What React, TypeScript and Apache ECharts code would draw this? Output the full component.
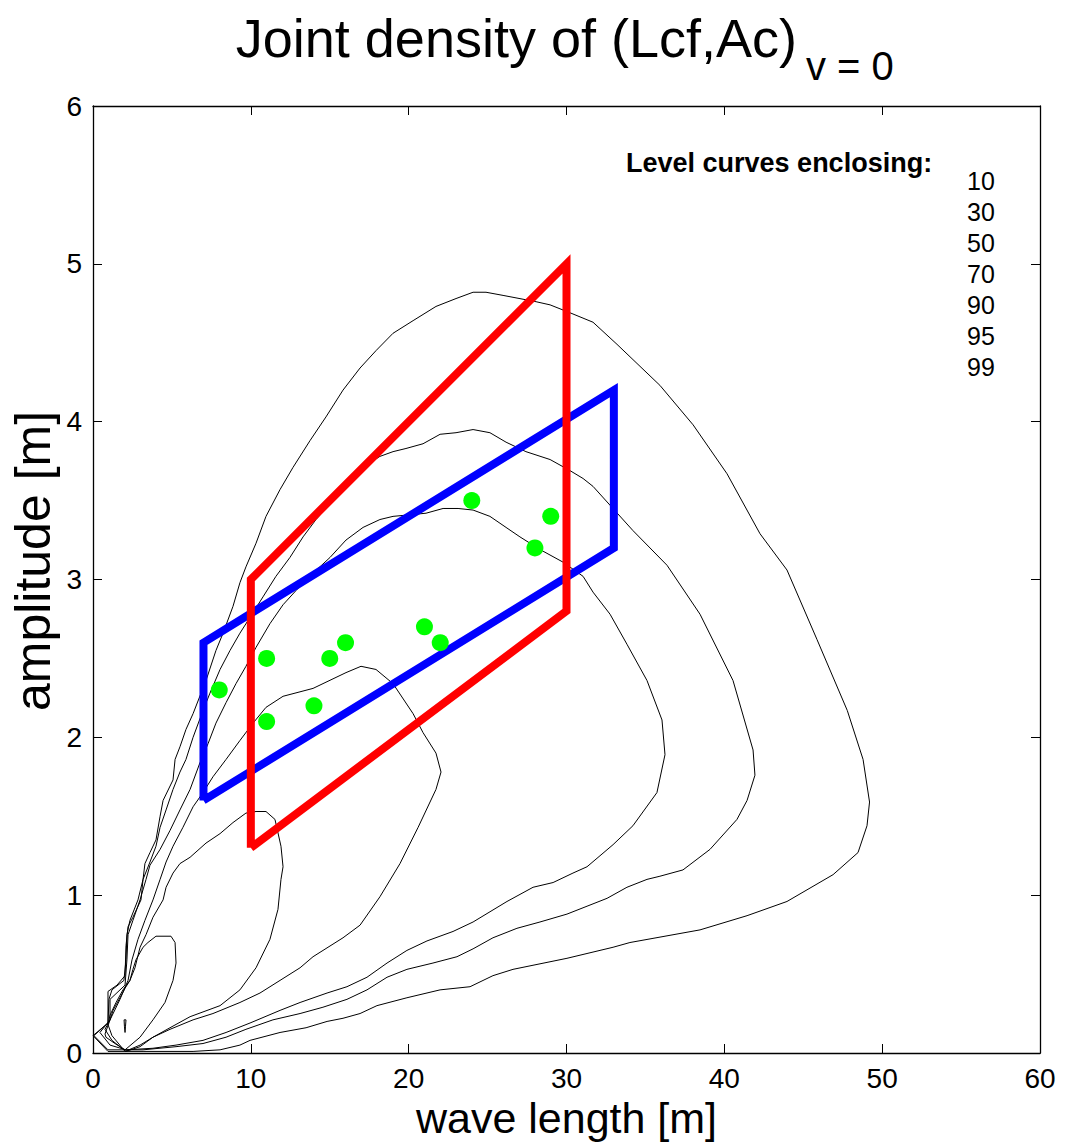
import React, { useEffect, useRef } from "react";
import * as echarts from "echarts";

// ---- data (wave length [m], amplitude [m]) ----
const contour99: number[][] = [
  [0, 0.11], [0.95, 0.19], [0.95, 0.39], [1.52, 0.43], [2.03, 0.49], [2.09, 0.68], [2.22, 0.8], [2.53, 0.86],
  [3.04, 0.97], [3.17, 1.1], [3.29, 1.2], [3.61, 1.27], [3.99, 1.35], [4.25, 1.5], [4.44, 1.6], [5.07, 1.73],
  [5.2, 1.86], [5.51, 1.94], [5.89, 2.05], [6.34, 2.15], [7.16, 2.36], [7.79, 2.55], [8.24, 2.66], [8.87, 2.83],
  [9.31, 2.98], [9.69, 3.08], [10.33, 3.23], [10.96, 3.4], [11.85, 3.57], [12.67, 3.71], [13.75, 3.88],
  [14.76, 4.03], [15.84, 4.2], [16.92, 4.34], [17.93, 4.45], [19.01, 4.56], [20.28, 4.64], [21.73, 4.73],
  [23.0, 4.78], [24.08, 4.82], [24.9, 4.82], [25.98, 4.8], [28.07, 4.76], [28.96, 4.74], [30.22, 4.69],
  [31.68, 4.63], [33.2, 4.49], [35.92, 4.23], [38.02, 3.98], [40.17, 3.67], [42.26, 3.29], [43.97, 3.06],
  [45.87, 2.62], [47.79, 2.17], [48.79, 1.86], [49.2, 1.59], [49.04, 1.44], [48.47, 1.27], [46.89, 1.13],
  [43.97, 0.96], [41.44, 0.87], [38.46, 0.78], [34.02, 0.7], [32.95, 0.67], [30.03, 0.6], [26.61, 0.53],
  [25.34, 0.49], [23.89, 0.42], [21.99, 0.4], [19.89, 0.35], [17.99, 0.3], [16.92, 0.25], [15.84, 0.22],
  [14.83, 0.2], [13.5, 0.16], [11.85, 0.13], [9.95, 0.08], [9.31, 0.05], [8.05, 0.02], [6.34, 0.01],
  [3.17, 0.01], [0.95, 0.01], [0, 0.11],
];

const contour95: number[][] = [
  [0.06, 0.11], [0.95, 0.19], [1.01, 0.34], [1.2, 0.4], [1.96, 0.46], [2.09, 0.59], [2.15, 0.75], [2.34, 0.84],
  [2.85, 0.97], [3.17, 1.1], [3.61, 1.21], [3.99, 1.31], [4.25, 1.43], [4.63, 1.54], [5.07, 1.67], [5.51, 1.78],
  [5.89, 1.86], [6.34, 2.0], [6.97, 2.17], [7.41, 2.28], [8.05, 2.43], [8.68, 2.55], [9.31, 2.66], [10.14, 2.79],
  [10.77, 2.89], [11.59, 3.02], [12.48, 3.14], [13.31, 3.27], [14.13, 3.38], [15.02, 3.48], [15.84, 3.57],
  [16.66, 3.67], [17.55, 3.74], [18.18, 3.78], [19.01, 3.81], [19.83, 3.83], [20.91, 3.86], [21.99, 3.92],
  [23.0, 3.93], [24.08, 3.95], [25.15, 3.93], [26.17, 3.87], [27.43, 3.81], [28.96, 3.76], [30.22, 3.69],
  [31.05, 3.64], [31.68, 3.59], [34.21, 3.31], [36.37, 3.09], [38.46, 2.78], [40.55, 2.36], [41.82, 1.92],
  [41.94, 1.76], [41.44, 1.6], [40.8, 1.48], [39.09, 1.29], [37.38, 1.16], [35.92, 1.12], [35.1, 1.1],
  [33.83, 1.05], [32.57, 0.98], [31.3, 0.93], [30.03, 0.88], [28.32, 0.83], [26.86, 0.79], [25.34, 0.73],
  [24.08, 0.66], [23.06, 0.61], [21.54, 0.57], [19.89, 0.53], [18.63, 0.48], [17.36, 0.4], [16.09, 0.34],
  [14.57, 0.29], [13.12, 0.25], [11.4, 0.21], [9.69, 0.15], [8.43, 0.1], [6.97, 0.06], [5.26, 0.04],
  [3.17, 0.02], [0.95, 0.02], [0.06, 0.11],
];

const contour90: number[][] = [
  [0.44, 0.13], [1.08, 0.21], [1.08, 0.34], [2.03, 0.43], [2.15, 0.59], [2.22, 0.75], [2.53, 0.84], [2.98, 0.97],
  [3.36, 1.1], [3.61, 1.19], [4.25, 1.29], [4.88, 1.41], [5.51, 1.54], [6.15, 1.67], [6.78, 1.84], [7.29, 1.96],
  [7.79, 2.09], [8.43, 2.22], [9.06, 2.34], [9.69, 2.45], [10.33, 2.57], [11.21, 2.72], [12.04, 2.84],
  [12.86, 2.93], [13.94, 3.04], [15.02, 3.14], [16.03, 3.25], [17.11, 3.33], [18.18, 3.38], [19.01, 3.4],
  [20.08, 3.41], [21.1, 3.42], [22.18, 3.45], [23.13, 3.45], [24.08, 3.44], [25.15, 3.4], [26.17, 3.33],
  [27.05, 3.27], [28.32, 3.19], [29.78, 3.11], [31.05, 3.02], [31.68, 2.92], [32.76, 2.78], [33.83, 2.59],
  [35.1, 2.36], [36.05, 2.11], [36.24, 1.89], [35.73, 1.65], [34.21, 1.44], [32.95, 1.32], [31.3, 1.18],
  [30.41, 1.14], [29.15, 1.08], [27.88, 1.05], [26.23, 0.96], [24.08, 0.83], [22.81, 0.77], [21.16, 0.71],
  [19.89, 0.65], [18.63, 0.57], [17.36, 0.48], [16.09, 0.42], [14.83, 0.38], [13.12, 0.32], [11.85, 0.27],
  [9.95, 0.19], [8.43, 0.13], [6.97, 0.08], [5.26, 0.05], [3.8, 0.03], [2.09, 0.02], [1.08, 0.05], [0.44, 0.13],
];

const contour70: number[][] = [
  [2.09, 0.01], [1.2, 0.08], [0.76, 0.15], [1.08, 0.21], [1.71, 0.34], [2.22, 0.46], [2.47, 0.59], [2.85, 0.72],
  [3.29, 0.84], [3.8, 0.97], [4.25, 1.1], [4.63, 1.21], [5.07, 1.31], [5.7, 1.43], [6.34, 1.56], [6.97, 1.65],
  [7.6, 1.75], [8.43, 1.86], [9.31, 1.98], [10.14, 2.09], [10.96, 2.19], [12.04, 2.26], [13.94, 2.31],
  [16.03, 2.41], [16.98, 2.45], [17.93, 2.43], [19.01, 2.34], [20.28, 2.15], [20.91, 2.03], [21.73, 1.9],
  [22.05, 1.78], [21.73, 1.67], [20.6, 1.43], [19.45, 1.2], [18.18, 0.99], [16.92, 0.81], [15.84, 0.73],
  [13.94, 0.61], [13.12, 0.54], [11.85, 0.46], [10.58, 0.38], [9.31, 0.32], [7.6, 0.25], [6.34, 0.21],
  [4.88, 0.15], [3.8, 0.1], [2.98, 0.04], [2.09, 0.01],
];

const contour50: number[][] = [
  [2.03, 0.01], [1.2, 0.11], [0.95, 0.18], [1.08, 0.24], [1.46, 0.32], [1.9, 0.4], [2.34, 0.46], [2.66, 0.54],
  [2.98, 0.67], [3.36, 0.75], [3.8, 0.86], [4.44, 0.97], [4.63, 1.05], [5.07, 1.14], [5.51, 1.2], [6.15, 1.24],
  [7.16, 1.33], [8.05, 1.39], [8.87, 1.46], [9.69, 1.52], [10.33, 1.53], [10.96, 1.53], [11.53, 1.48],
  [11.91, 1.31], [12.04, 1.18], [11.91, 1.1], [11.72, 0.91], [11.21, 0.72], [10.33, 0.54], [9.31, 0.4],
  [8.05, 0.3], [6.15, 0.23], [4.88, 0.16], [3.8, 0.1], [2.98, 0.05], [2.03, 0.01],
];

const contour30: number[][] = [
  [3.99, 0.74], [4.94, 0.74], [5.2, 0.7], [5.26, 0.57], [5.07, 0.46], [4.56, 0.32], [3.8, 0.21], [2.98, 0.1],
  [2.03, 0.02], [1.39, 0.06], [0.82, 0.1], [0.76, 0.12], [1.08, 0.21], [1.27, 0.27], [1.71, 0.35], [2.03, 0.41],
  [2.34, 0.46], [2.53, 0.53], [2.72, 0.59], [3.17, 0.67], [3.48, 0.7], [3.99, 0.74],
];

const contour10: number[][] = [
  [1.97, 0.21], [2.09, 0.21], [2.06, 0.17], [2.03, 0.13], [1.99, 0.17], [1.97, 0.21],
];

const redBox: number[][] = [[10, 1.3], [10, 3.0], [30, 5.0], [30, 2.8], [10, 1.3]];
const blueBox: number[][] = [[7, 1.6], [7, 2.6], [33, 4.2], [33, 3.2], [7, 1.6]];

const greenPoints: number[][] = [
  [8, 2.3], [11, 2.5], [11, 2.1], [14, 2.2], [15, 2.5], [16, 2.6],
  [21, 2.7], [22, 2.6], [24, 3.5], [28, 3.2], [29, 3.4],
];

const levelLabels = ["10", "30", "50", "70", "90", "95", "99"];
const contours = [contour10, contour30, contour50, contour70, contour90, contour95, contour99];

const FONT = "'Liberation Sans', Arial, Helvetica, sans-serif";

function textEl(text: string, x: number, y: number, fontSize: number, align: string, extra: any = {}, rotation = 0) {
  return {
    type: "text",
    x,
    y,
    rotation,
    style: {
      text,
      fontSize,
      fontFamily: FONT,
      fill: "#000",
      align,
      verticalAlign: "middle",
      textAlign: align,
      textVerticalAlign: "middle",
      ...extra,
    },
  };
}

export default function App() {
  const ref = useRef<HTMLDivElement>(null);

  useEffect(() => {
    if (!ref.current) return;
    const chart = echarts.init(ref.current, undefined, { renderer: "svg" });

    const axisCommon = {
      type: "value" as const,
      axisLine: { show: true, onZero: false, lineStyle: { color: "#000", width: 1.3 } },
      axisTick: { show: true, inside: true, length: 9, lineStyle: { color: "#000", width: 1 } },
      splitLine: { show: false },
    };

    const series: any[] = contours.map((c, i) => ({
      type: "line",
      name: "level " + levelLabels[i],
      data: c,
      showSymbol: false,
      silent: true,
      z: 2,
      lineStyle: { color: "#000", width: 1 },
    }));

    series.push({
      type: "line",
      name: "blue",
      data: blueBox,
      showSymbol: false,
      silent: true,
      z: 3,
      lineStyle: { color: "#0000ff", width: 8, join: "miter", cap: "butt" },
    });
    series.push({
      type: "line",
      name: "red",
      data: redBox,
      showSymbol: false,
      silent: true,
      z: 4,
      lineStyle: { color: "#ff0000", width: 8, join: "miter", cap: "butt" },
    });
    series.push({
      type: "scatter",
      name: "points",
      data: greenPoints,
      symbol: "circle",
      symbolSize: 17,
      z: 5,
      itemStyle: { color: "#00ff00", opacity: 1 },
    });

    const graphics: any[] = [
      textEl("Joint density of (Lcf,Ac)", 797, 38, 54, "right"),
      textEl("v = 0", 806, 66, 40, "left"),
      textEl("Level curves enclosing:", 626, 163, 27, "left", { fontWeight: "bold" }),
      ...levelLabels.map((t, i) => textEl(t, 967, 181 + i * 31, 25, "left")),
      textEl("amplitude [m]", 33, 561, 50, "center", {}, Math.PI / 2),
    ];

    chart.setOption({
      animation: false,
      backgroundColor: "#fff",
      textStyle: { fontFamily: FONT },
      grid: { left: 93, right: 25, top: 106, bottom: 93, containLabel: false, outerBoundsMode: "none" },
      xAxis: [
        {
          ...axisCommon,
          position: "bottom",
          min: 0,
          max: 60,
          interval: 10,
          axisLabel: { show: true, fontSize: 28, color: "#000", margin: 11, fontFamily: FONT },
          name: "wave length [m]",
          nameLocation: "middle",
          nameGap: 42,
          nameTextStyle: { fontSize: 43, color: "#000", fontFamily: FONT },
        },
        {
          ...axisCommon,
          position: "top",
          min: 0,
          max: 60,
          interval: 10,
          axisLabel: { show: false },
        },
      ],
      yAxis: [
        {
          ...axisCommon,
          position: "left",
          min: 0,
          max: 6,
          interval: 1,
          axisLabel: { show: true, fontSize: 28, color: "#000", margin: 11, fontFamily: FONT },
        },
        {
          ...axisCommon,
          position: "right",
          min: 0,
          max: 6,
          interval: 1,
          axisLabel: { show: false },
        },
      ],
      series,
      graphic: graphics,
    });

    return () => {
      chart.dispose();
    };
  }, []);

  return (
    <div
      ref={ref}
      style={{ position: "absolute", left: 0, top: 0, width: 1065, height: 1146, background: "#fff" }}
    />
  );
}
